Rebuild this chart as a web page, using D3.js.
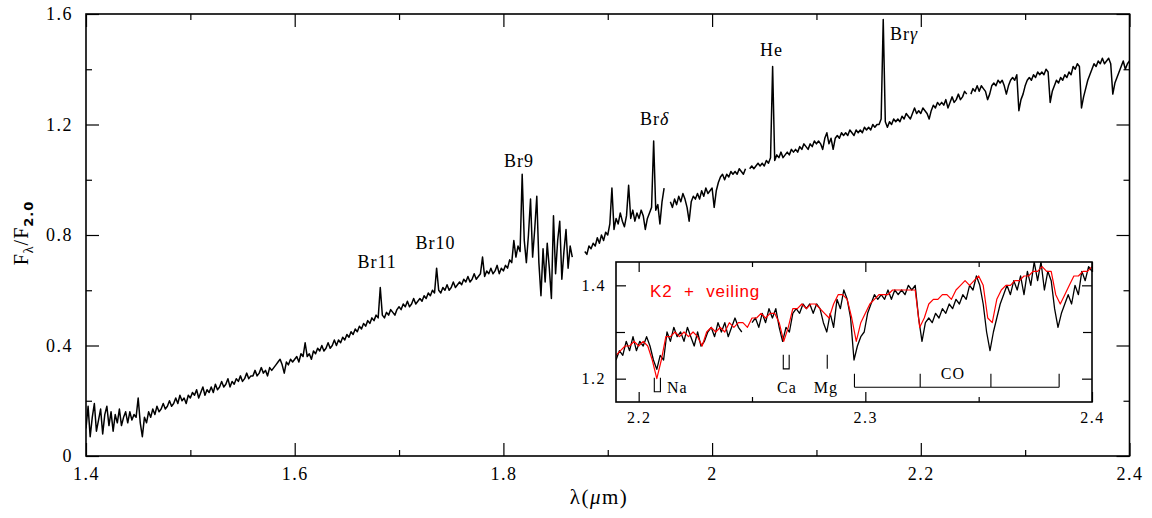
<!DOCTYPE html>
<html>
<head>
<meta charset="utf-8">
<script src="https://cdn.jsdelivr.net/npm/d3@7"></script>
<style>
  body { margin: 0; background: #fff; }
  text { font-family: "Liberation Serif", serif; fill: #000; }
</style>
</head>
<body>
<svg id="chart" width="1152" height="518"></svg>
<script>
/* =============================================
   NIR spectrum F_lambda/F_2.0 with K-band inset
   ============================================= */

// main spectrum, sampled every 0.002 um from 1.400 um (null = gap)
const mainStart = 1.400;
const mainStep = 0.002;
const mainFlux = [
  0.10, 0.18, 0.07, 0.14, 0.19, 0.09, 0.13, 0.17, 0.08, 0.15,
  0.18, 0.11, 0.16, 0.09, 0.15, 0.12, 0.17, 0.11, 0.14, 0.16,
  0.12, 0.16, 0.13, 0.15, 0.14, 0.21, 0.12, 0.07, 0.14, 0.12,
  0.16, 0.14, 0.17, 0.15, 0.18, 0.16, 0.17, 0.19, 0.17, 0.18,
  0.20, 0.18, 0.19, 0.21, 0.19, 0.22, 0.20, 0.21, 0.19, 0.22,
  0.21, 0.23, 0.22, 0.24, 0.21, 0.23, 0.25, 0.22, 0.24, 0.23,
  0.25, 0.23, 0.26, 0.24, 0.25, 0.27, 0.25, 0.26, 0.28, 0.25,
  0.27, 0.26, 0.28, 0.27, 0.29, 0.27, 0.28, 0.30, 0.28, 0.29,
  0.29, 0.31, 0.29, 0.30, 0.32, 0.30, 0.31, 0.29, 0.32, 0.31,
  0.32, 0.33, 0.34, 0.35, 0.33, 0.30, 0.34, 0.33, 0.35, 0.34,
  0.35, 0.36, 0.34, 0.37, 0.36, 0.41, 0.36, 0.37, 0.35, 0.38,
  0.37, 0.39, 0.38, 0.40, 0.38, 0.39, 0.41, 0.39, 0.40, 0.42,
  0.40, 0.42, 0.41, 0.43, 0.42, 0.44, 0.43, 0.45, 0.44, 0.46,
  0.45, 0.47, 0.46, 0.48, 0.47, 0.49, 0.48, 0.50, 0.49, 0.51,
  0.50, 0.61, 0.51, 0.50, 0.52, 0.51, 0.53, 0.52, 0.51, 0.53,
  0.54, 0.53, 0.55, 0.54, 0.56, 0.54, 0.55, 0.57, 0.55, 0.56,
  0.57, 0.56, 0.58, 0.57, 0.59, 0.58, 0.60, 0.59, 0.68, 0.60,
  0.59, 0.61, 0.60, 0.62, 0.60, 0.61, 0.63, 0.61, 0.62, 0.63,
  0.62, 0.64, 0.63, 0.65, 0.63, 0.64, 0.66, 0.64, 0.65, 0.66,
  0.72, 0.65, 0.67, 0.66, 0.68, 0.66, 0.67, 0.69, 0.66, 0.68,
  0.67, 0.69, 0.68, 0.71, 0.70, 0.78, 0.72, 0.76, 0.74, 1.02,
  0.78, 0.70, 0.80, 0.93, 0.72, 0.82, 0.94, 0.70, 0.58, 0.75,
  0.63, 0.77, 0.68, 0.57, 0.87, 0.66, 0.78, 0.85, 0.64, 0.74,
  0.82, 0.68, 0.76, 0.72, null, null, null, null, null, 0.74,
  0.73, 0.76, 0.75, 0.77, 0.76, 0.79, 0.77, 0.80, 0.78, 0.81,
  0.80, 0.84, 0.97, 0.82, 0.86, 0.84, 0.88, 0.85, 0.83, 0.87,
  0.98, 0.86, 0.89, 0.85, 0.88, 0.86, 0.89, 0.87, 0.82, 0.86,
  0.88, 0.90, 1.14, 0.89, 0.91, 0.84, 0.92, 0.97, null, null,
  0.92, 0.90, 0.93, 0.91, 0.94, 0.92, 0.95, 0.93, 0.90, 0.85,
  0.92, 0.94, 0.93, 0.95, 0.93, 0.96, 0.94, 0.97, 0.95, 0.96,
  0.97, 0.90, 0.96, 0.99, 1.01, 1.02, 1.00, 1.02, 1.01, 1.03,
  1.02, 1.03, 1.02, 1.04, 1.03, 1.02, 1.04, null, 1.04, 1.05,
  1.04, 1.05, 1.06, 1.05, 1.06, 1.05, 1.07, 1.06, 1.08, 1.41,
  1.07, 1.09, 1.08, 1.10, 1.08, 1.09, 1.10, 1.09, 1.11, 1.10,
  1.11, 1.10, 1.12, 1.11, 1.13, 1.12, 1.11, 1.13, 1.12, 1.14,
  1.13, 1.14, 1.13, 1.11, 1.15, 1.17, 1.13, 1.15, 1.11, 1.15,
  1.16, 1.15, 1.17, 1.16, 1.17, 1.16, 1.18, 1.17, 1.16, 1.18,
  1.17, 1.18, 1.17, 1.19, 1.18, 1.19, 1.18, 1.20, 1.19, 1.20,
  1.20, 1.22, 1.58, 1.21, 1.19, 1.21, 1.20, 1.22, 1.21, 1.22,
  1.21, 1.23, 1.22, 1.24, 1.23, 1.22, 1.24, 1.26, 1.24, 1.25,
  1.24, 1.26, 1.25, 1.24, 1.22, 1.25, 1.27, 1.26, 1.28, 1.27,
  1.28, 1.27, 1.29, 1.26, 1.28, 1.30, 1.28, 1.29, 1.31, 1.29,
  1.30, 1.32, 1.31, null, 1.31, 1.33, 1.32, 1.34, 1.32, 1.34,
  1.33, 1.32, 1.29, 1.31, 1.34, 1.35, 1.34, 1.36, 1.35, 1.36,
  1.34, 1.31, 1.34, 1.36, 1.37, 1.36, 1.38, 1.25, 1.29, 1.31,
  1.34, 1.36, 1.37, 1.36, 1.38, 1.37, 1.39, 1.38, 1.39, 1.38,
  1.40, 1.39, 1.28, 1.32, 1.34, 1.36, 1.35, 1.37, 1.36, 1.38,
  1.37, 1.39, 1.38, 1.41, 1.40, 1.42, 1.41, 1.26, 1.30, 1.33,
  1.36, 1.38, 1.40, 1.42, 1.41, 1.43, 1.42, 1.44, 1.42, 1.43,
  1.44, 1.42, 1.31, 1.35, 1.37, 1.39, 1.41, 1.43, 1.40, 1.42,
  1.43
];

// inset: observed spectrum, every 0.0015 um from 2.190 um
const insetStart = 2.190;
const insetStep = 0.0015;
const insetFlux = [
  1.24, 1.26, 1.25, 1.28, 1.26, 1.29, 1.26, 1.28, 1.27, 1.29,
  1.27, 1.24, 1.22, 1.25, 1.24, 1.30, 1.28, 1.31, 1.29, 1.30,
  1.28, 1.31, 1.29, 1.27, 1.30, 1.27, 1.28, 1.30, 1.31, 1.29,
  1.32, 1.30, 1.32, 1.29, 1.31, 1.33, 1.31, 1.30, null, null,
  1.32, 1.33, 1.31, 1.34, 1.32, 1.35, 1.33, 1.35, 1.31, 1.28,
  1.31, 1.30, 1.34, 1.35, 1.34, 1.36, 1.35, 1.36, 1.34, 1.36,
  1.35, 1.32, 1.30, 1.34, 1.31, 1.37, 1.35, 1.39, 1.37, 1.33,
  1.24, 1.27, 1.29, 1.30, 1.34, 1.36, 1.38, 1.37, 1.38, 1.37,
  1.39, 1.37, 1.39, 1.38, 1.39, 1.38, 1.40, 1.39, 1.40, 1.33,
  1.28, 1.32, 1.33, 1.32, 1.34, 1.33, 1.35, 1.34, 1.36, 1.35,
  1.37, 1.36, 1.38, 1.37, 1.40, 1.39, 1.42, 1.40, 1.36, 1.30,
  1.26, 1.30, 1.33, 1.36, 1.38, 1.40, 1.38, 1.41, 1.39, 1.42,
  1.38, 1.43, 1.40, 1.45, 1.41, 1.45, 1.39, 1.43, 1.41, 1.35,
  1.31, 1.34, 1.36, 1.38, 1.36, 1.40, 1.38, 1.43, 1.41, 1.44,
  1.43
];

// inset: K2 template + veiling, every 0.002 um from 2.190 um
const modelStart = 2.190;
const modelStep = 0.002;
const modelFlux = [
  1.25, 1.26, 1.27, 1.27, 1.28, 1.27, 1.28, 1.27, 1.24, 1.20,
  1.24, 1.29, 1.29, 1.30, 1.29, 1.30, 1.29, 1.30, 1.29, 1.27,
  1.30, 1.31, 1.30, 1.31, 1.30, 1.32, 1.31, 1.32, 1.32, 1.31,
  1.33, 1.33, 1.34, 1.33, 1.34, 1.34, 1.32, 1.28, 1.31, 1.35,
  1.35, 1.36, 1.35, 1.36, 1.36, 1.35, 1.34, 1.33, 1.36, 1.38,
  1.38, 1.37, 1.33, 1.28, 1.32, 1.34, 1.36, 1.37, 1.38, 1.38,
  1.38, 1.39, 1.39, 1.39, 1.39, 1.39, 1.39, 1.31, 1.33, 1.36,
  1.37, 1.37, 1.38, 1.38, 1.37, 1.39, 1.40, 1.41, 1.40, 1.41,
  1.42, 1.40, 1.33, 1.32, 1.37, 1.39, 1.40, 1.40, 1.41, 1.41,
  1.42, 1.42, 1.43, 1.43, 1.44, 1.43, 1.43, 1.38, 1.36, 1.38,
  1.40, 1.42, 1.42, 1.43, 1.43, 1.44
];

// line identifications in the main panel
const lineNames = ['Br11', 'Br10', 'Br9', 'Brδ', 'He', 'Brγ'];
const lineLambda = [1.679, 1.735, 1.815, 1.945, 2.057, 2.184];
const lineLabelFlux = [0.681, 0.749, 1.046, 1.198, 1.448, 1.506];

// inset feature markers
const naBracket = [2.2069, 2.2096];
const caBracket = [2.2638, 2.2664];
const mgLine = 2.2832;
const coHeads = [2.2952, 2.3242, 2.3554, 2.3855];

const mainXTicks = [1.4, 1.6, 1.8, 2.0, 2.2, 2.4];
const mainXMinor = [1.5, 1.7, 1.9, 2.1, 2.3];
const mainYTicks = [0, 0.4, 0.8, 1.2, 1.6];
const mainYMinor = [0.2, 0.6, 1.0, 1.4];
const insetXTicks = [2.2, 2.3, 2.4];
const insetXMinor = [2.25, 2.35];
const insetYTicks = [1.2, 1.4];
const insetYMinor = [1.3];

const toPoints = (start, step, flux) => flux.map((f, i) => ({ lam: start + i * step, f }));

const svg = d3.select('#chart');

// ---------- main panel ----------
const x = d3.scaleLinear().domain([1.4, 2.4]).range([86, 1129.5]);
const y = d3.scaleLinear().domain([0, 1.6]).range([456, 14]);

function frameAxes(g, xs, ys, xMaj, xMin, yMaj, yMin, opt) {
  const [x0, x1] = xs.range();
  const [y0, y1] = ys.range();
  const fmt = d => String(+d.toFixed(2));
  const mk = (axis, scale, vals, size, labels, pad) =>
    axis(scale).tickValues(vals).tickSize(-size).tickPadding(pad)
      .tickFormat(labels ? fmt : '');
  const axes = [
    [d3.axisBottom, xs, `translate(0,${y0})`, xMaj, xMin, true, true],
    [d3.axisTop, xs, `translate(0,${y1})`, xMaj, xMin, false, true],
    [d3.axisLeft, ys, `translate(${x0},0)`, yMaj, yMin, true, false],
    [d3.axisRight, ys, `translate(${x1},0)`, yMaj, yMin, false, false]
  ];
  axes.forEach(([axis, scale, tr, maj, min, labels, horiz]) => {
    g.append('g').attr('transform', tr)
      .call(mk(axis, scale, min, horiz ? opt.xMinor : opt.yMinor, false, 0));
    g.append('g').attr('transform', tr)
      .call(mk(axis, scale, maj, horiz ? opt.xMajor : opt.yMajor, labels, horiz ? opt.xPad : opt.yPad));
  });
  g.selectAll('.domain').remove();
  g.selectAll('.tick line').attr('stroke', '#000').attr('stroke-width', 1.2);
  g.selectAll('.tick text')
    .style('font-family', '"Liberation Serif", serif')
    .style('font-size', opt.font + 'px')
    .style('letter-spacing', '1.5px')
    .attr('fill', '#000');
  g.append('rect')
    .attr('x', x0).attr('y', y1)
    .attr('width', x1 - x0).attr('height', y0 - y1)
    .attr('fill', 'none').attr('stroke', '#000').attr('stroke-width', 1.6);
}

const mainG = svg.append('g');
mainG.append('clipPath').attr('id', 'clip-main')
  .append('rect').attr('x', 86).attr('y', 14).attr('width', 1043.5).attr('height', 442);

const lineGen = (xs, ys) => d3.line()
  .defined(d => d.f !== null)
  .x(d => xs(d.lam))
  .y(d => ys(d.f));

mainG.append('path')
  .datum(toPoints(mainStart, mainStep, mainFlux))
  .attr('clip-path', 'url(#clip-main)')
  .attr('fill', 'none')
  .attr('stroke', '#000')
  .attr('stroke-width', 1.5)
  .attr('stroke-linejoin', 'round')
  .attr('d', lineGen(x, y));

frameAxes(mainG, x, y, mainXTicks, mainXMinor, mainYTicks, mainYMinor,
  { xMajor: 13, xMinor: 6, yMajor: 13, yMinor: 6, xPad: 11, yPad: 13, font: 18 });

// line labels
mainG.selectAll('.line-label')
  .data(lineNames)
  .join('text')
  .attr('class', 'line-label')
  .attr('x', (d, i) => x(lineLambda[i]))
  .attr('y', (d, i) => y(lineLabelFlux[i]))
  .attr('text-anchor', 'middle')
  .style('font-size', '18px')
  .style('letter-spacing', '1px')
  .each(function (d) {
    const t = d3.select(this);
    if (/[δγ]/.test(d)) {
      t.append('tspan').text(d.slice(0, 2));
      t.append('tspan').style('font-style', 'italic').text(d.slice(2));
    } else {
      t.text(d);
    }
  });

// axis titles
const xt = svg.append('text')
  .attr('x', 599).attr('y', 504)
  .attr('text-anchor', 'middle')
  .style('font-size', '21px')
  .style('letter-spacing', '1.5px');
xt.append('tspan').text('λ(');
xt.append('tspan').style('font-style', 'italic').text('μ');
xt.append('tspan').text('m)');

const yt = svg.append('text')
  .attr('transform', 'translate(28,233) rotate(-90)')
  .attr('text-anchor', 'middle')
  .style('font-size', '20px')
  .style('letter-spacing', '1px');
yt.append('tspan').text('F');
yt.append('tspan').attr('dy', 5).style('font-size', '14px').text('λ');
yt.append('tspan').attr('dy', -5).text('/F');
yt.append('tspan').attr('dy', 5).style('font-size', '13px')
  .style('font-family', '"DejaVu Sans", sans-serif').style('font-weight', 'bold').text('2.0');

// ---------- inset ----------
const xi = d3.scaleLinear().domain([2.19, 2.4]).range([616, 1092]);
const yi = d3.scaleLinear().domain([1.15, 1.45]).range([402, 262]);

const inG = svg.append('g');
inG.append('rect')
  .attr('x', 616).attr('y', 262).attr('width', 476).attr('height', 140)
  .attr('fill', '#fff');
inG.append('clipPath').attr('id', 'clip-inset')
  .append('rect').attr('x', 616).attr('y', 262).attr('width', 476).attr('height', 140);

inG.append('path')
  .datum(toPoints(insetStart, insetStep, insetFlux))
  .attr('clip-path', 'url(#clip-inset)')
  .attr('fill', 'none')
  .attr('stroke', '#000')
  .attr('stroke-width', 1.3)
  .attr('stroke-linejoin', 'round')
  .attr('d', lineGen(xi, yi));

inG.append('path')
  .datum(toPoints(modelStart, modelStep, modelFlux))
  .attr('clip-path', 'url(#clip-inset)')
  .attr('fill', 'none')
  .attr('stroke', '#ff0000')
  .attr('stroke-width', 1.2)
  .attr('stroke-linejoin', 'round')
  .attr('d', lineGen(xi, yi));

frameAxes(inG, xi, yi, insetXTicks, insetXMinor, insetYTicks, insetYMinor,
  { xMajor: 10, xMinor: 5, yMajor: 10, yMinor: 9, xPad: 10, yPad: 10, font: 16 });

inG.append('text')
  .attr('x', xi(2.205)).attr('y', yi(1.374))
  .style('fill', '#ff0000')
  .style('font-family', '"Liberation Sans", sans-serif')
  .style('font-size', '17px')
  .style('letter-spacing', '0.8px')
  .style('word-spacing', '6px')
  .text('K2 + veiling');

// feature markers
const mark = inG.append('g')
  .attr('fill', 'none').attr('stroke', '#000').attr('stroke-width', 1.1);
const bracketPath = (l0, l1, top, bottom) =>
  `M${xi(l0)},${yi(top)}V${yi(bottom)}H${xi(l1)}V${yi(top)}`;
mark.append('path').attr('d', bracketPath(naBracket[0], naBracket[1], 1.202, 1.172));
mark.append('path').attr('d', bracketPath(caBracket[0], caBracket[1], 1.251, 1.221));
mark.append('path').attr('d', `M${xi(mgLine)},${yi(1.251)}V${yi(1.221)}`);
mark.append('path')
  .attr('d', `M${xi(coHeads[0])},${yi(1.1815)}H${xi(coHeads[coHeads.length - 1])}` +
    coHeads.map(l => `M${xi(l)},${yi(1.1815)}V${yi(1.2106)}`).join(''));

const featLabels = [
  { t: 'Na', lam: 2.2125, f: 1.170, anchor: 'start' },
  { t: 'Ca', lam: 2.2654, f: 1.170, anchor: 'middle' },
  { t: 'Mg', lam: 2.2826, f: 1.170, anchor: 'middle' },
  { t: 'CO', lam: 2.3386, f: 1.200, anchor: 'middle' }
];
inG.selectAll('.feat')
  .data(featLabels)
  .join('text')
  .attr('class', 'feat')
  .attr('x', d => xi(d.lam))
  .attr('y', d => yi(d.f))
  .attr('text-anchor', d => d.anchor)
  .style('font-size', '16px')
  .style('letter-spacing', '1px')
  .text(d => d.t);
</script>
</body>
</html>
